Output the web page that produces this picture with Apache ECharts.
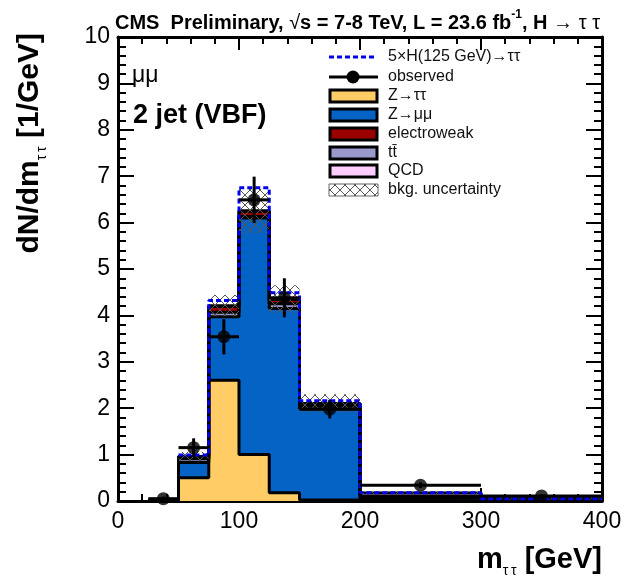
<!DOCTYPE html>
<html>
<head>
<meta charset="utf-8">
<script src="https://cdn.jsdelivr.net/npm/echarts@6/dist/echarts.min.js"></script>
<style>
  html, body { margin: 0; padding: 0; background: #fff; }
  #chart { width: 625px; height: 585px; }
</style>
</head>
<body>
<div id="chart"></div>
<script>
// m_tautau bins (GeV), contents in events per GeV
const binLow  = [25, 50, 75, 100, 125, 150, 200, 300];
const binHigh = [50, 75, 100, 125, 150, 200, 300, 400];

// background components, stacked bottom to top
const zTauTau     = [0.01, 0.50, 2.60, 1.00, 0.18, 0.02, 0.00, 0.00];
const zMuMu       = [0.02, 0.33, 1.37, 5.10, 3.97, 1.97, 0.06, 0.03];
const ttbar       = [0.00, 0.08, 0.10, 0.03, 0.10, 0.06, 0.02, 0.01];
const electroweak = [0.00, 0.05, 0.12, 0.12, 0.10, 0.05, 0.02, 0.01];
const qcd         = [0.00, 0.00, 0.02, 0.00, 0.00, 0.00, 0.07, 0.00];

// 5 x SM Higgs (125 GeV), stacked on the background
const higgsX5     = [0.00, 0.03, 0.11, 0.50, 0.14, 0.06, 0.01, 0.00];
// total background uncertainty (+-)
const bkgUnc      = [0.01, 0.10, 0.23, 0.48, 0.30, 0.20, 0.03, 0.02];

// observed data and its statistical error
const observed    = [0.05, 1.15, 3.54, 6.49, 4.38, 1.98, 0.34, 0.11];
const observedErr = [0.045, 0.20, 0.38, 0.50, 0.42, 0.20, 0.06, 0.03];

const xTicks = [0, 100, 200, 300, 400];
const yTicks = [0, 1, 2, 3, 4, 5, 6, 7, 8, 9, 10];

const FONT = '"Liberation Sans", Arial, Helvetica, sans-serif';

const layers = [
  { name: 'Z\u2192\u03c4\u03c4', values: zTauTau,     color: '#FFCC66' },
  { name: 'Z\u2192\u03bc\u03bc', values: zMuMu,       color: '#0563C5' },
  { name: 't\u0074\u0304',       values: ttbar,       color: '#9999CC' },
  { name: 'electroweak',         values: electroweak, color: '#9A0000' },
  { name: 'QCD',                 values: qcd,         color: '#FFCCFF' }
];

// cumulative sums of the stack
const cumulative = [];
let running = binLow.map(() => 0);
layers.forEach(l => {
  const base = running.slice();
  running = running.map((v, i) => v + l.values[i]);
  cumulative.push({ base, top: running.slice() });
});
const bkgTotal = running.slice();
const sigTotal = bkgTotal.map((v, i) => v + higgsX5[i]);

// cross-hatch tile for the uncertainty band
function hatchTile() {
  const c = document.createElement('canvas');
  c.width = 10; c.height = 10;
  const g = c.getContext('2d');
  g.strokeStyle = '#555';
  g.lineWidth = 1;
  g.beginPath();
  g.moveTo(0, 0); g.lineTo(10, 10);
  g.moveTo(10, 0); g.lineTo(0, 10);
  g.stroke();
  return c;
}
const hatch = { image: hatchTile(), repeat: 'repeat' };

// step outline through bins [first .. last]; optionally closed down to zero
function stepPoints(vals, first, fromZero) {
  const pts = [];
  if (fromZero) pts.push([binLow[first], 0]);
  for (let i = first; i < vals.length; i++) pts.push([binLow[i], vals[i]]);
  const last = vals.length - 1;
  pts.push([binHigh[last], vals[last]]);
  if (fromZero) pts.push([binHigh[last], 0]);
  return pts;
}

const series = [];

// filled stack components
layers.forEach((l, k) => {
  series.push({
    type: 'custom',
    name: l.name,
    z: 2,
    renderItem: (params, api) => {
      const p0 = api.coord([api.value(0), api.value(3)]);
      const p1 = api.coord([api.value(1), api.value(2)]);
      return {
        type: 'rect',
        shape: { x: p0[0] - 0.5, y: p0[1], width: p1[0] - p0[0] + 1, height: p1[1] - p0[1] },
        style: { fill: l.color }
      };
    },
    encode: { x: [0, 1], y: [2, 3] },
    data: binLow.map((lo, i) => [lo, binHigh[i], cumulative[k].base[i], cumulative[k].top[i]])
  });
});

// black outlines of each cumulative histogram
layers.forEach((l, k) => {
  series.push({
    type: 'line',
    z: 3,
    step: 'end',
    symbol: 'none',
    silent: true,
    lineStyle: { color: '#000', width: 3 },
    data: stepPoints(cumulative[k].top, 0, true)
  });
});

// background uncertainty band
series.push({
  type: 'custom',
  name: 'bkg. uncertainty',
  z: 4,
  renderItem: (params, api) => {
    const p0 = api.coord([api.value(0), api.value(2) + api.value(3)]);
    const p1 = api.coord([api.value(1), api.value(2) - api.value(3)]);
    return {
      type: 'rect',
      shape: { x: p0[0], y: p0[1], width: p1[0] - p0[0], height: p1[1] - p0[1] },
      style: { fill: hatch }
    };
  },
  encode: { x: [0, 1], y: [2] },
  data: binLow.map((lo, i) => [lo, binHigh[i], bkgTotal[i], bkgUnc[i]])
});

// signal on top of background
series.push({
  type: 'line',
  name: '5\u00d7H(125 GeV)\u2192\u03c4\u03c4',
  z: 5,
  step: 'end',
  symbol: 'none',
  lineStyle: { color: '#0000EE', width: 3, type: [5, 3] },
  data: stepPoints(sigTotal, 1, false)
});

// observed: error bars
series.push({
  type: 'custom',
  z: 6,
  renderItem: (params, api) => {
    const lo = api.value(0), hi = api.value(1), y = api.value(2), e = api.value(3);
    const xc = (lo + hi) / 2;
    const a = api.coord([lo, y]), b = api.coord([hi, y]);
    const c = api.coord([xc, y + e]), d = api.coord([xc, Math.max(0, y - e)]);
    return {
      type: 'group',
      children: [
        { type: 'line', shape: { x1: a[0], y1: a[1], x2: b[0], y2: b[1] }, style: { stroke: '#000', lineWidth: 3 } },
        { type: 'line', shape: { x1: c[0], y1: c[1], x2: d[0], y2: d[1] }, style: { stroke: '#000', lineWidth: 3 } }
      ]
    };
  },
  encode: { x: [0, 1], y: [2] },
  data: binLow.map((lo, i) => [lo, binHigh[i], observed[i], observedErr[i]])
});

// observed: markers
series.push({
  type: 'scatter',
  name: 'observed',
  z: 7,
  symbol: 'circle',
  symbolSize: 13,
  itemStyle: { color: '#000' },
  data: binLow.map((lo, i) => [(lo + binHigh[i]) / 2, observed[i]])
});

const tickStyle = { color: '#000', width: 2 };
function xAxisDef(pos, labels) {
  return {
    type: 'value', position: pos, min: xTicks[0], max: xTicks[xTicks.length - 1],
    interval: xTicks[1] - xTicks[0],
    axisLine: { show: true, onZero: false, lineStyle: { color: '#000', width: 3 } },
    axisTick: { show: true, inside: true, length: 13, lineStyle: tickStyle },
    minorTick: { show: true, splitNumber: 5, length: 7, lineStyle: tickStyle },
    axisLabel: { show: labels, color: '#000', fontSize: 23, fontFamily: FONT, margin: 9 },
    splitLine: { show: false }
  };
}
function yAxisDef(pos, labels) {
  return {
    type: 'value', position: pos, min: yTicks[0], max: yTicks[yTicks.length - 1],
    interval: yTicks[1] - yTicks[0],
    axisLine: { show: true, onZero: false, lineStyle: { color: '#000', width: 3 } },
    axisTick: { show: true, inside: true, length: 16, lineStyle: tickStyle },
    minorTick: { show: true, splitNumber: 5, length: 8, lineStyle: tickStyle },
    axisLabel: { show: labels, color: '#000', fontSize: 23, fontFamily: FONT, margin: 8 },
    splitLine: { show: false }
  };
}

// legend drawn as graphics
const legendX = 329, legendW = 49, legendTextX = 388;
const legendRows = [
  { label: '5\u00d7H(125 GeV)\u2192\u03c4\u03c4', y: 57, kind: 'dash' },
  { label: 'observed', y: 77, kind: 'data' },
  { label: layers[0].name, y: 96, kind: 'box', color: layers[0].color },
  { label: layers[1].name, y: 115, kind: 'box', color: layers[1].color },
  { label: 'electroweak', y: 134, kind: 'box', color: layers[3].color },
  { label: 't\u0074\u0304', y: 153, kind: 'box', color: layers[2].color },
  { label: 'QCD', y: 171, kind: 'box', color: layers[4].color },
  { label: 'bkg. uncertainty', y: 190, kind: 'hatch' }
];
const legendGraphics = [];
legendRows.forEach(r => {
  if (r.kind === 'dash') {
    legendGraphics.push({ type: 'line', shape: { x1: legendX, y1: r.y, x2: legendX + 45, y2: r.y },
      style: { stroke: '#0000EE', lineWidth: 3, lineDash: [5, 3] } });
  } else if (r.kind === 'data') {
    legendGraphics.push({ type: 'line', shape: { x1: legendX, y1: r.y, x2: legendX + legendW, y2: r.y },
      style: { stroke: '#000', lineWidth: 3 } });
    legendGraphics.push({ type: 'circle', shape: { cx: legendX + 24, cy: r.y, r: 6.5 }, style: { fill: '#000' } });
  } else if (r.kind === 'box') {
    legendGraphics.push({ type: 'rect', shape: { x: legendX + 1, y: r.y - 6, width: legendW - 2, height: 12 },
      style: { fill: r.color, stroke: '#000', lineWidth: 3 } });
  } else {
    legendGraphics.push({ type: 'rect', shape: { x: legendX, y: r.y - 6, width: legendW, height: 12 },
      style: { fill: hatch, stroke: '#666', lineWidth: 1 } });
  }
  legendGraphics.push({ type: 'text', x: legendTextX, y: r.y,
    style: { text: r.label, font: '16px ' + FONT, fill: '#111', textVerticalAlign: 'middle' } });
});

const chart = echarts.init(document.getElementById('chart'), null, { renderer: 'canvas' });
chart.setOption({
  animation: false,
  backgroundColor: '#fff',
  grid: { left: 118, right: 23, top: 37, bottom: 84, containLabel: false },
  xAxis: [xAxisDef('bottom', true), xAxisDef('top', false)],
  yAxis: [yAxisDef('left', true), yAxisDef('right', false)],
  series: series,
  graphic: [
    // header
    {
      type: 'text', left: 115, top: 9,
      style: {
        text: '{b|CMS  Preliminary, }{r|\u221a}{b|s = 7-8 TeV, L = 23.6 fb}{sup|-1}{b|, H }{r|\u2192 \u03c4 \u03c4}',
        rich: {
          b: { font: 'bold 20px ' + FONT, fill: '#000', lineHeight: 24, verticalAlign: 'bottom' },
          r: { font: '20px ' + FONT, fill: '#000', lineHeight: 24, verticalAlign: 'bottom' },
          sup: { font: 'bold 12px ' + FONT, fill: '#000', lineHeight: 24, verticalAlign: 'top' }
        }
      }
    },
    // channel labels
    { type: 'text', left: 132, top: 64, style: { text: '\u03bc\u03bc', font: '23px ' + FONT, fill: '#000' } },
    { type: 'text', left: 133, top: 102, style: { text: '2 jet (VBF)', font: 'bold 27px ' + FONT, fill: '#000' } },
    // y axis title
    {
      type: 'text', x: 32, y: 33, rotation: Math.PI / 2,
      style: {
        text: '{m|dN/dm}{s|\u03c4\u2009\u03c4}{m| [1/GeV]}',
        align: 'right', verticalAlign: 'middle',
        rich: {
          m: { font: 'bold 30px ' + FONT, fill: '#000', lineHeight: 34, verticalAlign: 'top' },
          s: { font: '14px ' + FONT, fill: '#000', lineHeight: 18, verticalAlign: 'bottom' }
        }
      }
    },
    // x axis title
    {
      type: 'text', right: 23, top: 545,
      style: {
        text: '{m|m}{s|\u03c4\u2009\u03c4}{m| [GeV]}',
        rich: {
          m: { font: 'bold 29px ' + FONT, fill: '#000', lineHeight: 33, verticalAlign: 'top' },
          s: { font: '14px ' + FONT, fill: '#000', lineHeight: 16, verticalAlign: 'bottom' }
        }
      }
    }
  ].concat(legendGraphics)
});
</script>
</body>
</html>
